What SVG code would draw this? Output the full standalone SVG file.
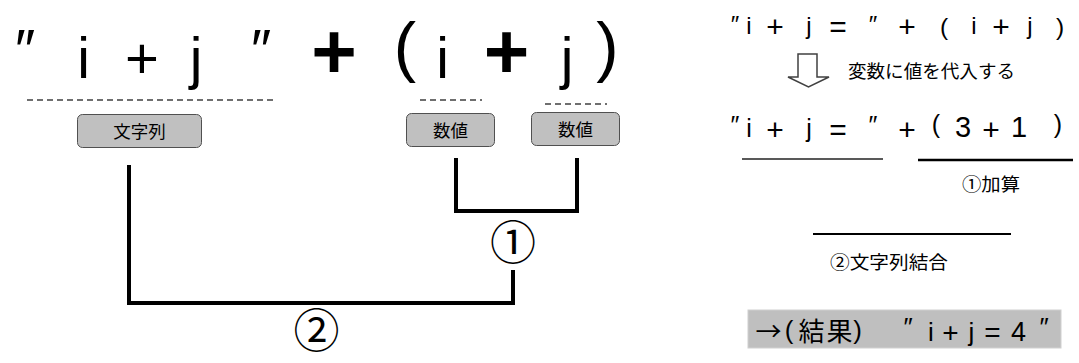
<svg xmlns="http://www.w3.org/2000/svg" width="1079" height="363" viewBox="0 0 1079 363">
<style>
.l{font-family:"Liberation Sans",Arial,sans-serif;fill:#000;text-anchor:middle}
.j{font-family:"Noto Sans CJK JP","Noto Sans",sans-serif;fill:#000}
.m{text-anchor:middle}
.box{fill:#c0c0c0;stroke:#505050;stroke-width:1}
.dash{stroke:#404040;stroke-width:1.5;stroke-dasharray:6 4;fill:none}
.br{stroke:#000;stroke-width:4;fill:none;stroke-linecap:square}
</style>
<rect width="1079" height="363" fill="#fff"/>

<g id="formula-left">
<text class="l" x="25" y="70" font-size="57">″</text>
<text class="l" x="83.5" y="78" font-size="57">i</text>
<text class="l" x="142" y="78" font-size="58">+</text>
<text class="l" x="196" y="78" font-size="57">j</text>
<text class="l" x="261" y="70" font-size="57">″</text>
<text class="l" x="334" y="78" font-size="78" font-weight="bold">+</text>
<text class="l" x="405" y="69" font-size="67">(</text>
<text class="l" x="442.5" y="78" font-size="57">i</text>
<text class="l" x="506.5" y="78" font-size="78" font-weight="bold">+</text>
<text class="l" x="567" y="78" font-size="57">j</text>
<text class="l" x="607.5" y="69" font-size="67">)</text>
</g>

<g id="underlines-left">
<line class="dash" x1="27" y1="100" x2="277" y2="100"/>
<line class="dash" x1="420" y1="100" x2="482" y2="100"/>
<line class="dash" x1="545" y1="104" x2="607" y2="104"/>
</g>

<g id="node-string">
<rect class="box" x="77.5" y="114.5" width="124" height="33" rx="5"/>
<text class="j m" x="139.5" y="138" font-size="17.5">文字列</text>
</g>
<g id="node-num1">
<rect class="box" x="406.5" y="113.5" width="88" height="33" rx="5"/>
<text class="j m" x="450.5" y="137" font-size="17.5">数値</text>
</g>
<g id="node-num2">
<rect class="box" x="531.5" y="112.5" width="88" height="33" rx="5"/>
<text class="j m" x="575.5" y="136" font-size="17.5">数値</text>
</g>

<g id="connectors">
<polyline class="br" points="456,160 456,211 577,211 577,160"/>
<polyline class="br" points="129,167 129,303 513,303 513,272"/>
</g>

<g id="label-1">
<text class="j m" x="513" y="259" font-size="46">①</text>
</g>
<g id="label-2">
<text class="j m" x="316.5" y="347" font-size="46">②</text>
</g>

<g id="right-line1">
<text class="l" x="735" y="33" font-size="24">″</text>
<text class="l" x="749" y="34" font-size="24">i</text>
<text class="l" x="775" y="37" font-size="30">+</text>
<text class="l" x="809" y="34" font-size="24">j</text>
<text class="l" x="838" y="37" font-size="30">=</text>
<text class="l" x="873" y="33" font-size="24">″</text>
<text class="l" x="907" y="37" font-size="30">+</text>
<text class="l" x="944" y="35" font-size="24.5">(</text>
<text class="l" x="974" y="34" font-size="24">i</text>
<text class="l" x="1001" y="37" font-size="30">+</text>
<text class="l" x="1030" y="34" font-size="24">j</text>
<text class="l" x="1060" y="35" font-size="24.5">)</text>
</g>

<g id="arrow-assign">
<polygon points="798,54 817,54 817,77 829,77 808.5,87 788,77 798,77" fill="#fff" stroke="#404040" stroke-width="1.5" stroke-linejoin="miter"/>
<text class="j" x="848" y="78" font-size="18" textLength="167" lengthAdjust="spacingAndGlyphs">変数に値を代入する</text>
</g>

<g id="right-line2">
<text class="l" x="735" y="134" font-size="25">″</text>
<text class="l" x="749" y="137" font-size="25">i</text>
<text class="l" x="775" y="140" font-size="30">+</text>
<text class="l" x="809" y="137" font-size="25">j</text>
<text class="l" x="838" y="140" font-size="30">=</text>
<text class="l" x="873" y="134" font-size="25">″</text>
<text class="l" x="907" y="140" font-size="30">+</text>
<text class="l" x="936" y="133" font-size="25">(</text>
<text class="l" x="963" y="137" font-size="29">3</text>
<text class="l" x="991" y="140" font-size="30">+</text>
<text class="l" x="1019" y="137" font-size="29">1</text>
<text class="l" x="1058" y="133" font-size="25">)</text>
</g>

<g id="right-lines">
<line x1="742" y1="159" x2="883" y2="159" stroke="#222" stroke-width="1.5"/>
<line x1="918" y1="160" x2="1073" y2="160" stroke="#000" stroke-width="2.5"/>
<line x1="813" y1="234" x2="1011" y2="234" stroke="#000" stroke-width="2"/>
</g>

<g id="label-add">
<text class="j" x="962" y="191" font-size="18" textLength="58" lengthAdjust="spacingAndGlyphs">①加算</text>
</g>
<g id="label-concat">
<text class="j" x="830" y="269" font-size="18.5" textLength="118" lengthAdjust="spacingAndGlyphs">②文字列結合</text>
</g>

<g id="result">
<rect x="748" y="310" width="313" height="38" fill="#bfbfbf" stroke="#d0d0d0" stroke-width="1"/>
<text class="j m" x="768.5" y="341" font-size="26">→</text>
<text class="l" x="789" y="339" font-size="26">(</text>
<text class="j m" x="811.5" y="341" font-size="26">結</text>
<text class="j m" x="839.5" y="341" font-size="26">果</text>
<text class="l" x="857.5" y="339" font-size="26">)</text>
<text class="l" x="908" y="336" font-size="26">″</text>
<text class="l" x="931" y="341" font-size="26">i</text>
<text class="l" x="950.5" y="342" font-size="28">+</text>
<text class="l" x="971.5" y="341" font-size="26">j</text>
<text class="l" x="992.5" y="342" font-size="28">=</text>
<text class="l" x="1018.5" y="341" font-size="27">4</text>
<text class="l" x="1044" y="336" font-size="26">″</text>
</g>
</svg>
